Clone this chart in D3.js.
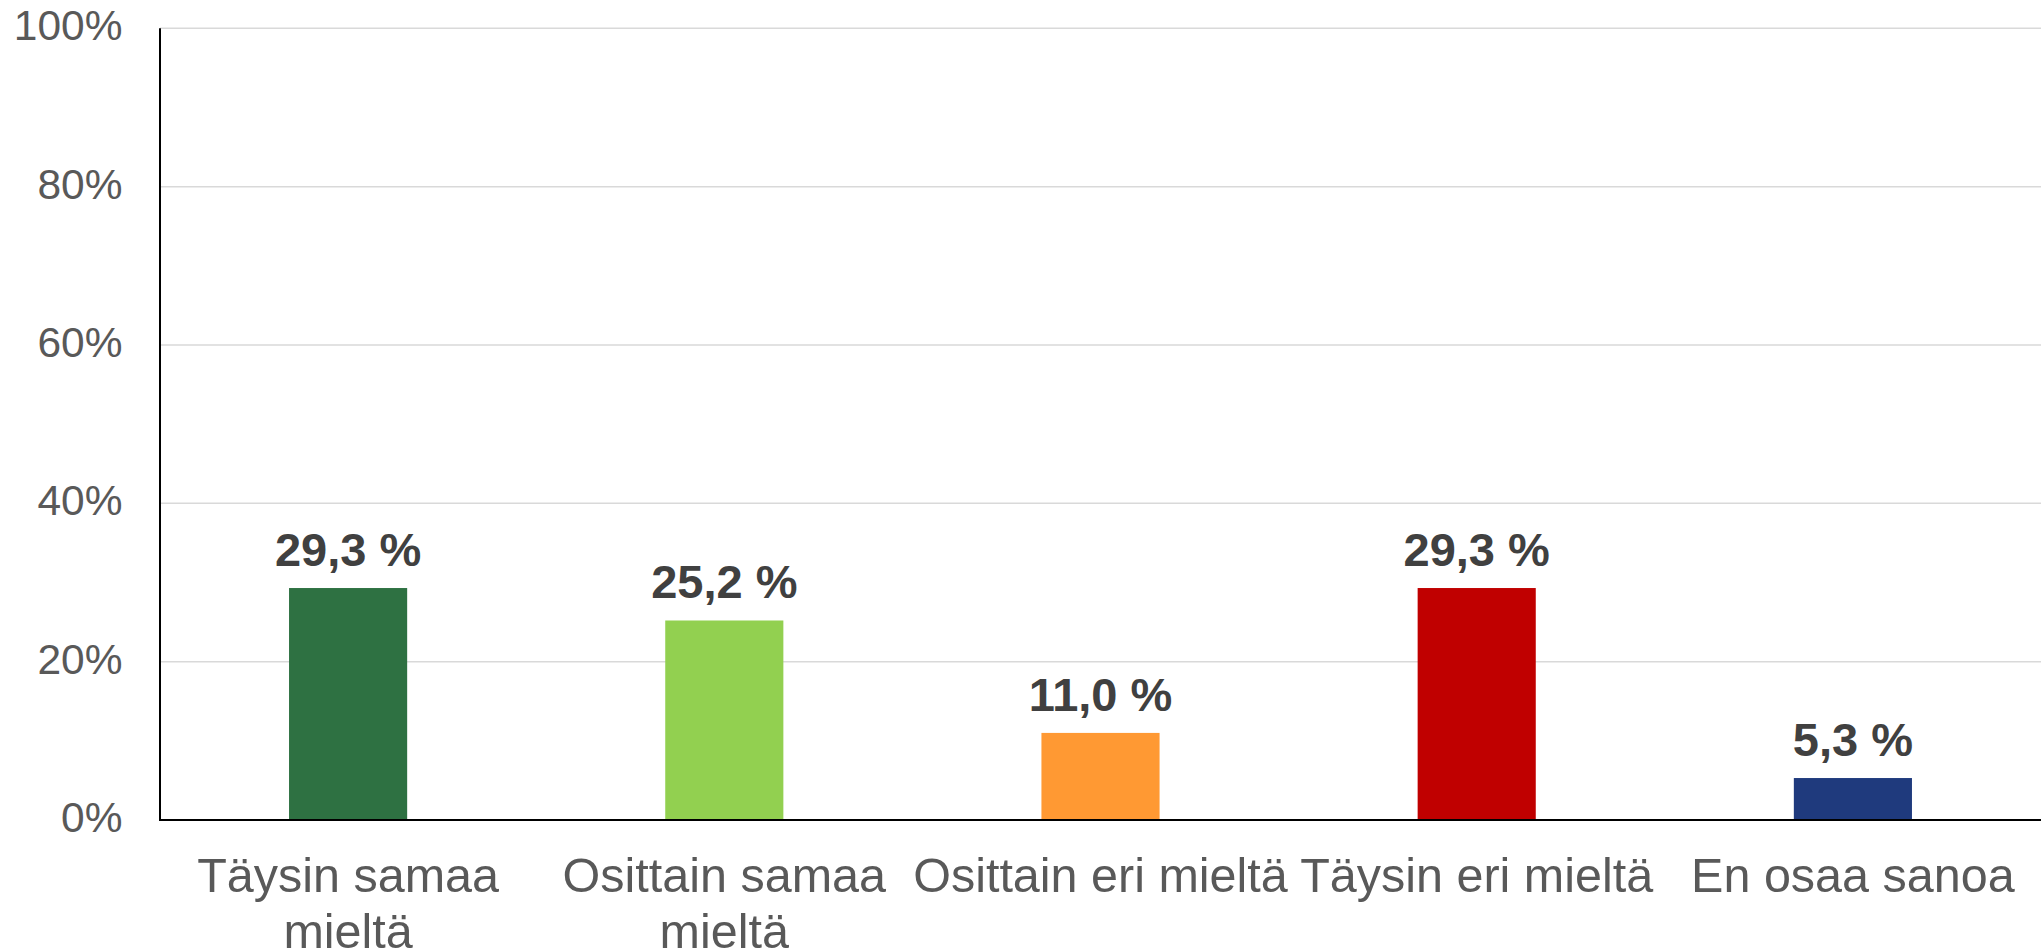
<!DOCTYPE html>
<html>
<head>
<meta charset="utf-8">
<script src="https://cdn.jsdelivr.net/npm/d3@7"></script>
<style>
  html, body { margin: 0; padding: 0; background: #fff; }
  svg { display: block; }
  text { font-family: Arial, "Liberation Sans", sans-serif; }
</style>
</head>
<body>
<svg id="chart" width="2041" height="950"></svg>
<script>
const categories = ["Täysin samaa mieltä", "Osittain samaa mieltä", "Osittain eri mieltä", "Täysin eri mieltä", "En osaa sanoa"];
const values = [29.3, 25.2, 11.0, 29.3, 5.3];
const barColors = ["#2E7142", "#92D050", "#FF9933", "#C00000", "#1F3A7D"];
const yTicks = [0, 20, 40, 60, 80, 100];

const W = 2041, H = 950;
const margin = { top: 28.3, right: 0, bottom: 130, left: 160 };
const plotBottom = 820;

const svg = d3.select("#chart");

const x = d3.scaleBand()
  .domain(categories)
  .range([margin.left, W - margin.right])
  .paddingInner(0.686)
  .paddingOuter(0.343);

const y = d3.scaleLinear()
  .domain([0, 100])
  .range([plotBottom, margin.top]);

// gridlines
svg.append("g")
  .selectAll("line")
  .data(yTicks.filter(d => d > 0))
  .join("line")
  .attr("x1", margin.left)
  .attr("x2", W - margin.right)
  .attr("y1", d => y(d))
  .attr("y2", d => y(d))
  .attr("stroke", "#d9d9d9")
  .attr("stroke-width", 1.5);

// y axis labels
const yAxis = d3.axisLeft(y)
  .tickValues(yTicks)
  .tickSize(0)
  .tickPadding(37.5)
  .tickFormat(d => d + "%");

const gy = svg.append("g")
  .attr("transform", `translate(${margin.left},0)`)
  .call(yAxis);
gy.select(".domain").remove();
gy.selectAll("text")
  .attr("fill", "#595959")
  .attr("font-size", 42.5)
  .attr("dy", "0.27em")
  .style("font-family", "Arial, 'Liberation Sans', sans-serif");

// bars
svg.append("g")
  .selectAll("rect")
  .data(values)
  .join("rect")
  .attr("x", (d, i) => x(categories[i]))
  .attr("width", x.bandwidth())
  .attr("y", d => y(d))
  .attr("height", d => y(0) - y(d))
  .attr("fill", (d, i) => barColors[i]);

// value labels
svg.append("g")
  .selectAll("text")
  .data(values)
  .join("text")
  .attr("x", (d, i) => x(categories[i]) + x.bandwidth() / 2)
  .attr("y", d => y(d) - 22)
  .attr("text-anchor", "middle")
  .attr("font-size", 47)
  .attr("font-weight", "bold")
  .attr("fill", "#404040")
  .text(d => d.toFixed(1).replace(".", ",") + " %");

// axis lines
svg.append("line")
  .attr("x1", margin.left).attr("x2", margin.left)
  .attr("y1", margin.top).attr("y2", plotBottom)
  .attr("stroke", "#000").attr("stroke-width", 2);
svg.append("line")
  .attr("x1", margin.left - 1).attr("x2", W)
  .attr("y1", plotBottom).attr("y2", plotBottom)
  .attr("stroke", "#000").attr("stroke-width", 2);

// x category labels (wrapped)
const xAxis = d3.axisBottom(x).tickSize(0).tickPadding(0);
const gx = svg.append("g")
  .attr("transform", `translate(0,${plotBottom})`)
  .call(xAxis);
gx.select(".domain").remove();
gx.selectAll("text")
  .attr("fill", "#595959")
  .attr("font-size", 48.5)
  .style("font-family", "Arial, 'Liberation Sans', sans-serif")
  .attr("y", 0)
  .attr("dy", null)
  .each(function(d) {
    const t = d3.select(this);
    const words = d.split(" ");
    const maxW = x.step();
    t.text(null);
    const lines = [];
    let line = [];
    const probe = t.append("tspan");
    words.forEach(w => {
      const test = line.concat([w]).join(" ");
      probe.text(test);
      if (probe.node().getComputedTextLength() > maxW && line.length) {
        lines.push(line.join(" "));
        line = [w];
      } else {
        line.push(w);
      }
    });
    lines.push(line.join(" "));
    probe.remove();
    lines.forEach((l, i) => {
      t.append("tspan")
        .attr("x", 0)
        .attr("y", 72 + i * 56)
        .text(l);
    });
  });
</script>
</body>
</html>
